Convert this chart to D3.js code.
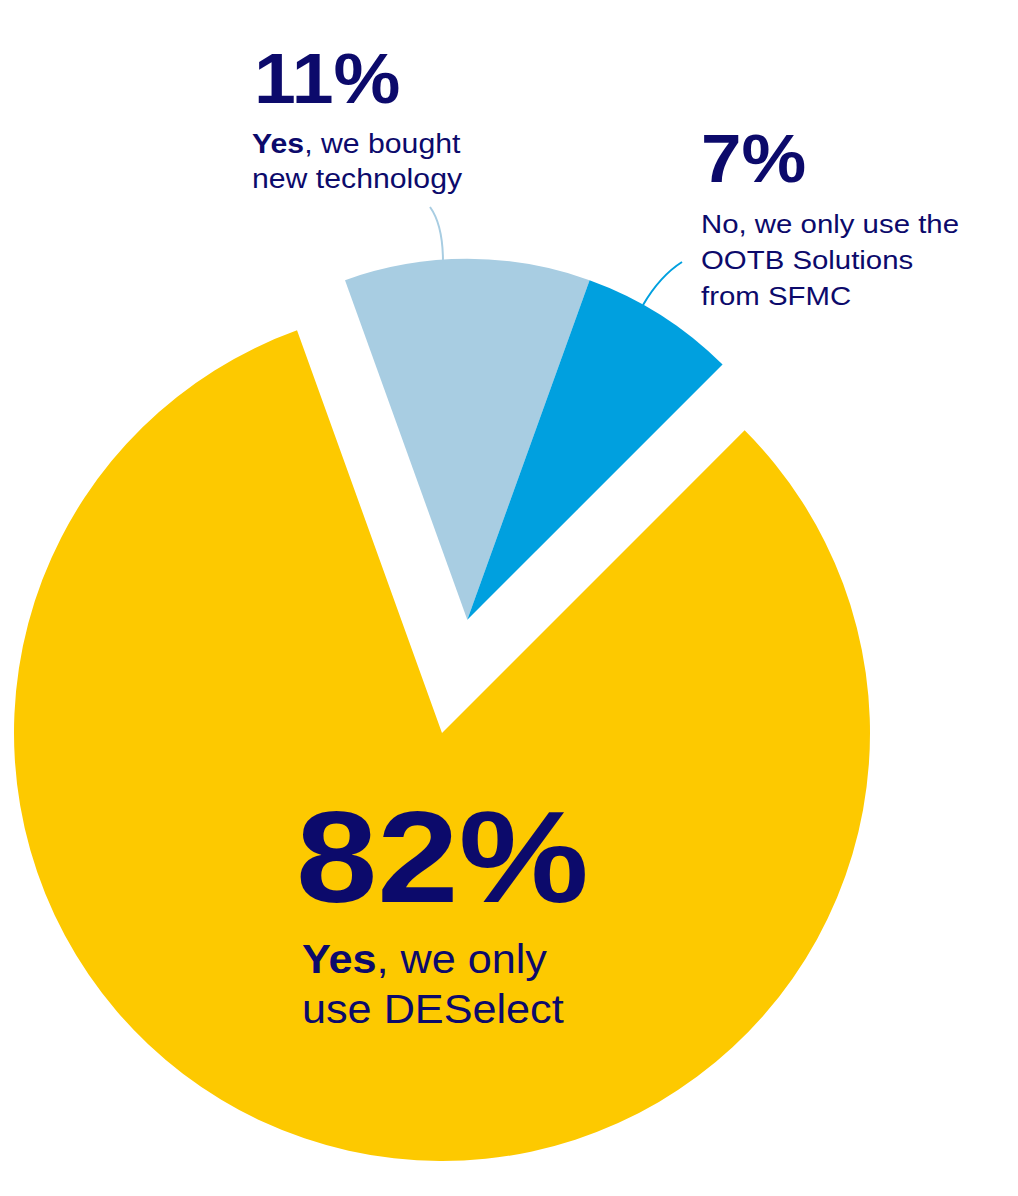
<!DOCTYPE html>
<html>
<head>
<meta charset="utf-8">
<script src="https://cdn.jsdelivr.net/npm/d3@7"></script>
<style>
  html, body { margin: 0; padding: 0; background: #fff; }
</style>
</head>
<body>
<div id="wrapper"></div>
<script>
width = 1018
height = 1196

// data
var categories = ["Yes, we bought new technology", "No, we only use the OOTB Solutions from SFMC", "Yes, we only use DESelect"]
var values = [11, 7, 82]
var colors = ["#a8cde2", "#00a0df", "#fdc900"]
var navy = "#0c0a6b"

var centerX = 442 // centre of the big slice
var centerY = 733
var bigRadius = 428
var smallRadius = 361
var explode = 116 // distance the two small slices are pulled out

const svg = d3.select("#wrapper").append("svg")
    .attr("width", width)
    .attr("height", height)
    .style("font-family", "'Liberation Sans', Arial, sans-serif")

var startDeg = -19.8
var pie = d3.pie()
    .sort(null)
    .value(d => d)
    .startAngle(startDeg * Math.PI / 180)
    .endAngle((startDeg + 360) * Math.PI / 180)

var arcs = pie(values)

// small slices get pulled out along their shared middle angle
var smallMid = (arcs[0].startAngle + arcs[1].endAngle) / 2
var smallX = centerX + explode * Math.sin(smallMid)
var smallY = centerY - explode * Math.cos(smallMid)

var bigArc = d3.arc().innerRadius(0).outerRadius(bigRadius)
var smallArc = d3.arc().innerRadius(0).outerRadius(smallRadius)

svg.append("g")
    .attr("transform", `translate(${centerX},${centerY})`)
    .append("path")
    .attr("d", bigArc(arcs[2]))
    .attr("fill", colors[2])

var small = svg.append("g")
    .attr("transform", `translate(${smallX},${smallY})`)

small.selectAll("path")
    .data(arcs.slice(0, 2))
    .join("path")
    .attr("d", d => smallArc(d))
    .attr("fill", (d, i) => colors[i])

// leader lines
svg.append("path")
    .attr("d", "M430,207 Q443,225 443,262")
    .attr("fill", "none")
    .attr("stroke", colors[0])
    .attr("stroke-width", 2)

svg.append("path")
    .attr("d", "M682,262 Q660,276 643,305")
    .attr("fill", "none")
    .attr("stroke", colors[1])
    .attr("stroke-width", 2)

// labels (the original typeface is wider than Liberation Sans, so stretch a bit)
function label(o) {
    var g = svg.append("g").attr("fill", navy)
    g.append("text")
        .attr("transform", `translate(${o.x},${o.y}) scale(${o.pctScale},1)`)
        .style("font-size", o.pctSize + "px")
        .style("font-weight", "bold")
        .text(o.pct + "%")
    var t = g.append("text")
        .attr("transform", `translate(${o.x + (o.dx || 0)},${o.bodyY}) scale(${o.bodyScale},1)`)
        .style("font-size", o.size + "px")
    o.lines.forEach((line, i) => {
        var ts = t.append("tspan")
            .attr("x", 0)
            .attr("y", i * o.lh)
        if (i === 0 && o.bold) {
            ts.append("tspan").style("font-weight", "bold").text(o.bold)
            ts.append("tspan").text(line)
        } else {
            ts.text(line)
        }
    })
}

label({x: 254, y: 103, pct: values[0], pctSize: 70, pctScale: 1.075,
    bold: "Yes", lines: [", we bought", "new technology"],
    bodyY: 153, size: 27, lh: 35, bodyScale: 1.12, dx: -2})
label({x: 701, y: 182, pct: values[1], pctSize: 68, pctScale: 1.07,
    bold: null, lines: ["No, we only use the", "OOTB Solutions", "from SFMC"],
    bodyY: 233, size: 26, lh: 36, bodyScale: 1.13})
label({x: 296, y: 902, pct: values[2], pctSize: 130, pctScale: 1.125,
    bold: "Yes", lines: [", we only", "use DESelect"],
    bodyY: 973, size: 40, lh: 50, bodyScale: 1.08, dx: 6})
</script>
</body>
</html>
